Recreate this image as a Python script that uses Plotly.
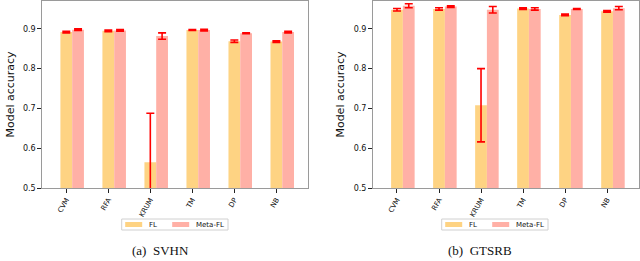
import plotly.graph_objects as go

categories = ["CVM", "RFA", "KRUM", "TM", "DP", "NB"]

svhn_fl = [0.892, 0.895, 0.565, 0.897, 0.869, 0.868]
svhn_fl_err = [0.002, 0.002, 0.123, 0.001, 0.003, 0.002]
svhn_meta = [0.898, 0.896, 0.882, 0.897, 0.889, 0.892]
svhn_meta_err = [0.002, 0.002, 0.008, 0.002, 0.001, 0.002]

gtsrb_fl = [0.948, 0.950, 0.708, 0.951, 0.935, 0.944]
gtsrb_fl_err = [0.003, 0.003, 0.092, 0.002, 0.002, 0.002]
gtsrb_meta = [0.958, 0.956, 0.948, 0.950, 0.950, 0.952]
gtsrb_meta_err = [0.005, 0.002, 0.008, 0.003, 0.001, 0.004]

captions = ["(a)  SVHN", "(b)  GTSRB"]
yticks = [0.5, 0.6, 0.7, 0.8, 0.9]

FL_COLOR = "#FED383"
META_COLOR = "#FFB0A6"
ERR_COLOR = "#FF0000"
W = 0.28

fig = go.Figure()

panels = [
    (svhn_fl, svhn_fl_err, svhn_meta, svhn_meta_err, "x", "y"),
    (gtsrb_fl, gtsrb_fl_err, gtsrb_meta, gtsrb_meta_err, "x2", "y2"),
]
for k, (fl, fle, meta, metae, xa, ya) in enumerate(panels):
    fig.add_trace(go.Bar(
        x=categories, y=fl, width=W, offset=-W / 2, name="FL",
        marker=dict(color=FL_COLOR, line=dict(width=0)),
        error_y=dict(type="data", array=fle, color=ERR_COLOR, thickness=1.6, width=4),
        xaxis=xa, yaxis=ya, showlegend=False,
    ))
    fig.add_trace(go.Bar(
        x=categories, y=meta, width=W, offset=W / 2, name="Meta-FL",
        marker=dict(color=META_COLOR, line=dict(width=0)),
        error_y=dict(type="data", array=metae, color=ERR_COLOR, thickness=1.6, width=4),
        xaxis=xa, yaxis=ya, showlegend=False,
    ))

axis_common = dict(
    showline=True, linecolor="#9a9a9a", linewidth=1, mirror=True,
    ticks="outside", ticklen=4, tickcolor="#222", tickwidth=1,
    showgrid=False, zeroline=False,
)
W_PX = 640.0
PH = 187.0  # plot height in px
BOT = 188.0  # plot bottom in px from top

def py(ypix):
    return (BOT - ypix) / PH

fig.update_layout(
    width=640, height=261,
    margin=dict(l=0, r=0, t=1, b=73),
    plot_bgcolor="white", paper_bgcolor="white",
    barmode="overlay",
    font=dict(family="DejaVu Sans", color="#111"),
    xaxis=dict(domain=[42.3 / W_PX, 308.3 / W_PX], range=[-0.571, 5.76],
               tickangle=-60, tickfont=dict(size=7), anchor="y", **axis_common),
    yaxis=dict(domain=[0, 1], range=[0.5, 0.97], tickvals=yticks, tickformat=".1f",
               tickfont=dict(size=8), anchor="x",
               title=dict(text="Model accuracy", font=dict(size=11), standoff=6), **axis_common),
    xaxis2=dict(domain=[373 / W_PX, 639 / W_PX], range=[-0.571, 5.76],
                tickangle=-60, tickfont=dict(size=7), anchor="y2", **axis_common),
    yaxis2=dict(domain=[0, 1], range=[0.5, 0.97], tickvals=yticks, tickformat=".1f",
                tickfont=dict(size=8), anchor="x2",
                title=dict(text="Model accuracy", font=dict(size=11), standoff=6), **axis_common),
)

# legends (manual, one per panel) drawn as shapes + text
legend_specs = [(121.7, 228), (441.7, 548)]
for k, (x0, x1) in enumerate(legend_specs):
    fig.add_shape(type="rect", xref="paper", yref="paper",
                  x0=x0 / W_PX, x1=x1 / W_PX, y0=py(230), y1=py(219),
                  line=dict(color="#d0d0d0", width=1), fillcolor="white")
    items = [("FL", FL_COLOR, x0 + 3.5), ("Meta-FL", META_COLOR, x0 + 50.5)]
    for label, col, sx in items:
        fig.add_shape(type="rect", xref="paper", yref="paper",
                      x0=sx / W_PX, x1=(sx + 17) / W_PX, y0=py(227), y1=py(222),
                      line=dict(width=0), fillcolor=col)
        fig.add_annotation(x=(sx + 22) / W_PX, y=py(224.5),
                           xref="paper", yref="paper", text=label, showarrow=False,
                           xanchor="left", yanchor="middle",
                           font=dict(size=7, family="DejaVu Sans", color="#111"))

for k, cap in enumerate(captions):
    cx = [160, 480][k]
    fig.add_annotation(x=cx / W_PX, y=py(250.5), xref="paper", yref="paper",
                       text=cap, showarrow=False, xanchor="center", yanchor="middle",
                       font=dict(size=13, family="Liberation Serif", color="#111"))

fig.write_html("out.html", config={"displayModeBar": False},
               post_script="document.body.style.margin='0px';document.body.style.overflow='hidden';")
